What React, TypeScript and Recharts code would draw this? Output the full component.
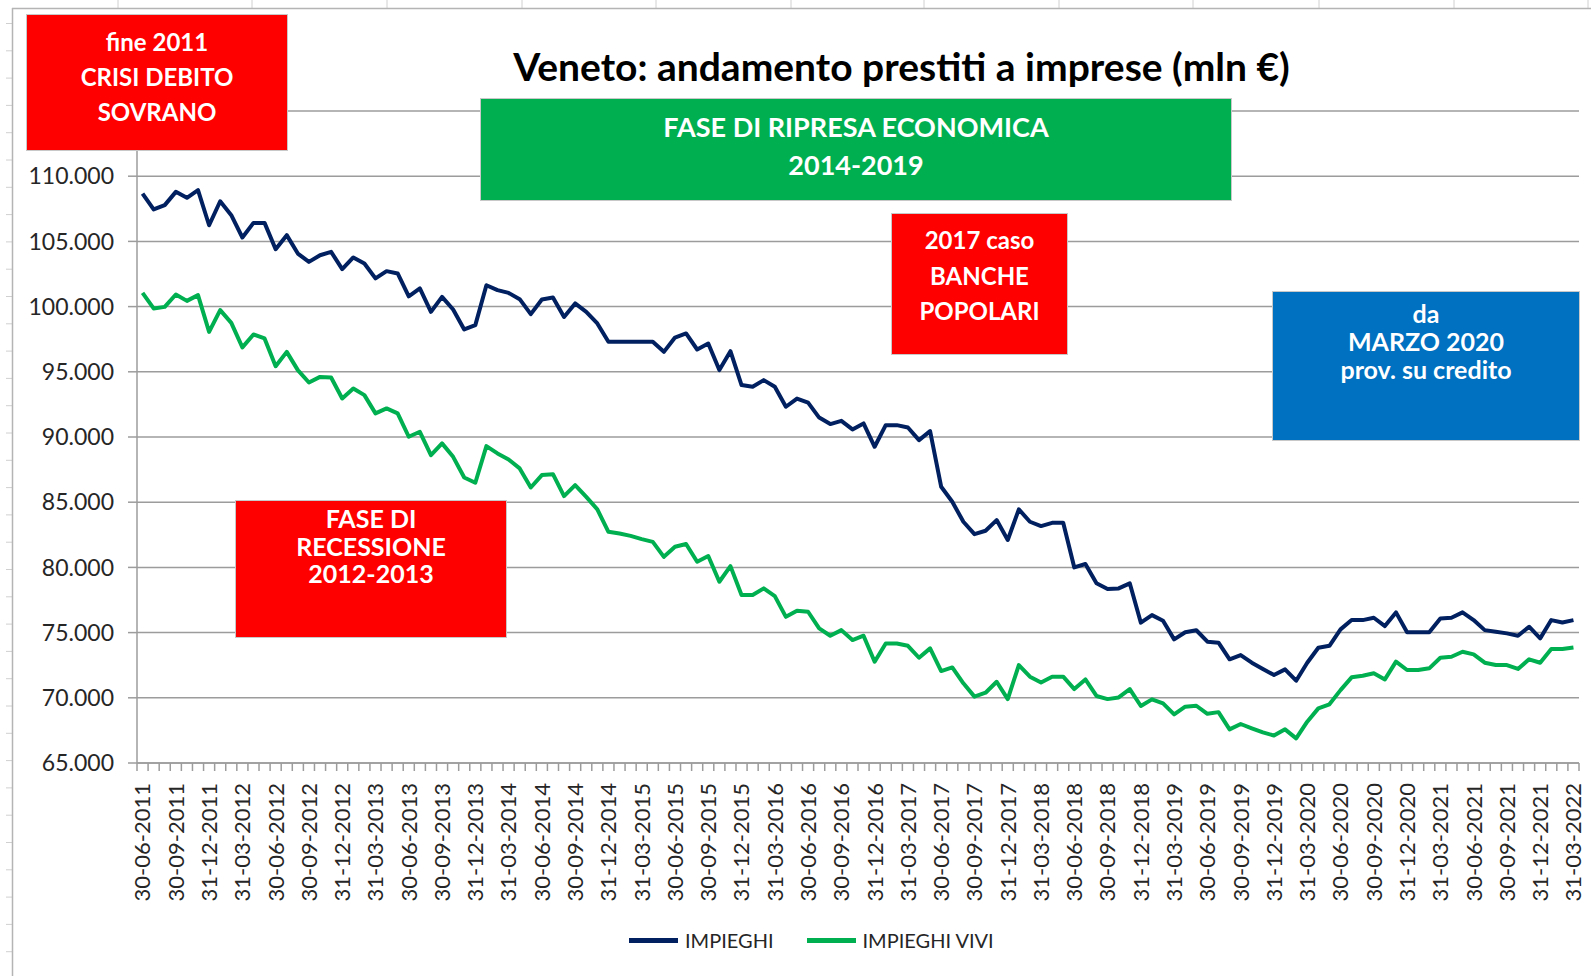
import { LineChart, Line, XAxis, YAxis, CartesianGrid } from 'recharts'

// IMPIEGHI (mln €), monthly, 30-06-2011 .. 31-03-2022
const IMPIEGHI = [
  108670, 107450, 107780, 108800, 108340, 108930, 106240, 108080, 107010, 105300,
  106420, 106420, 104400, 105480, 104070, 103430, 103940, 104200, 102870, 103770,
  103310, 102160, 102720, 102540, 100790, 101390, 99600, 100750, 99780, 98250,
  98580, 101640, 101260, 101050, 100570, 99420, 100550, 100700, 99210, 100240,
  99600, 98710, 97300, 97300, 97300, 97300, 97300, 96530, 97630, 97940,
  96710, 97170, 95130, 96580, 93980, 93850, 94360, 93850, 92320, 92950,
  92640, 91490, 90990, 91240, 90580, 91040, 89250, 90910, 90910, 90730,
  89760, 90450, 86180, 85030, 83500, 82550, 82810, 83630, 82100, 84450,
  83500, 83170, 83420, 83420, 80000, 80260, 78780, 78340, 78390, 78780,
  75760, 76340, 75910, 74480, 75030, 75180, 74300, 74230, 72950, 73280,
  72690, 72210, 71750, 72180, 71310, 72690, 73840, 73990, 75250, 75960,
  75960, 76140, 75500, 76550, 75020, 75020, 75020, 76090, 76140, 76550,
  75960, 75190, 75070, 74940, 74760, 75450, 74560, 75960, 75780, 75960,
]

// IMPIEGHI VIVI (mln €)
const IMPIEGHI_VIVI = [
  101050, 99860, 99980, 100930, 100440, 100880, 98060, 99730, 98750, 96870,
  97860, 97560, 95430, 96530, 95130, 94180, 94610, 94560, 92950, 93720,
  93210, 91810, 92190, 91810, 90020, 90400, 88610, 89510, 88480, 86890,
  86490, 89300, 88740, 88280, 87590, 86130, 87080, 87150, 85470, 86310,
  85410, 84450, 82730, 82600, 82420, 82170, 81960, 80810, 81580, 81790,
  80430, 80870, 78900, 80100, 77880, 77880, 78390, 77800, 76210, 76670,
  76600, 75320, 74760, 75190, 74430, 74760, 72770, 74170, 74170, 73990,
  73070, 73790, 72050, 72330, 71110, 70090, 70390, 71230, 69900, 72510,
  71620, 71180, 71620, 71620, 70670, 71410, 70140, 69900, 70030, 70670,
  69370, 69880, 69570, 68730, 69320, 69390, 68770, 68900, 67580, 67990,
  67660, 67350, 67100, 67580, 66890, 68170, 69190, 69500, 70590, 71570,
  71690, 71880, 71410, 72770, 72130, 72130, 72260, 73070, 73150, 73530,
  73330, 72690, 72510, 72510, 72210, 72950, 72690, 73740, 73740, 73860,
]

// the 115.000 line exists but its label sits under the first text box
const Y_TICKS = [65000, 70000, 75000, 80000, 85000, 90000, 95000, 100000, 105000, 110000, 115000]
const Y_HIDDEN_LABEL = 115000

// month-end dates starting June 2011
const pad = (n: number) => String(n).padStart(2, '0')
const DATES = IMPIEGHI.map((_, i) => {
  const m0 = 5 + i
  const y = 2011 + Math.floor(m0 / 12)
  const m = (m0 % 12) + 1
  const d = new Date(y, m, 0).getDate()
  return `${pad(d)}-${pad(m)}-${y}`
})

const data = DATES.map((date, i) => ({
  date,
  impieghi: IMPIEGHI[i],
  vivi: IMPIEGHI_VIVI[i],
}))

const W = 1591
const H = 976
const PLOT_LEFT = 137
const PLOT_RIGHT = 1579
const HALF_BAND = (PLOT_RIGHT - PLOT_LEFT) / DATES.length / 2

const AXIS_GRAY = '#9c9c9c'
const FONT = 'Lato, "Open Sans", sans-serif'

const fmtY = (v: number) => (v === Y_HIDDEN_LABEL ? '' : `${v / 1000}.000`)

function XTick(props: any) {
  const { x, y, payload, index } = props
  const last = index === DATES.length - 1
  return (
    <g>
      <line x1={x - HALF_BAND} x2={x - HALF_BAND} y1={y} y2={y + 8} stroke={AXIS_GRAY} strokeWidth={1.5} />
      {last && (
        <line x1={x + HALF_BAND} x2={x + HALF_BAND} y1={y} y2={y + 8} stroke={AXIS_GRAY} strokeWidth={1.5} />
      )}
      {index % 3 === 0 && (
        <text
          x={x}
          y={y + 20}
          dy="0.36em"
          textAnchor="end"
          transform={`rotate(-90, ${x}, ${y + 20})`}
          style={{ fontSize: 22, fontFamily: FONT, fill: '#262626' }}
        >
          {payload.value}
        </text>
      )}
    </g>
  )
}

type BoxProps = {
  left: number
  top: number
  width: number
  height: number
  bg: string
  lines: string[]
  fontSize: number
  lineHeight: number
  padTop: number
}

function Box({ left, top, width, height, bg, lines, fontSize, lineHeight, padTop }: BoxProps) {
  return (
    <div
      style={{
        position: 'absolute',
        left,
        top,
        width,
        height,
        boxSizing: 'border-box',
        background: bg,
        border: '1.5px solid #c8c8c8',
        color: '#fff',
        fontFamily: FONT,
        fontWeight: 700,
        fontSize,
        lineHeight: `${lineHeight}px`,
        paddingTop: padTop,
        textAlign: 'center',
      }}
    >
      {lines.map((l) => (
        <div key={l} style={{ height: lineHeight }}>{l}</div>
      ))}
    </div>
  )
}

const COL_LINES = [118, 252, 387, 522, 656, 791, 924, 1059, 1193, 1319, 1454, 1588]
const ROW_LINES = Array.from({ length: 36 }, (_, k) => 23.5 + k * 27.3)

export default function App() {
  return (
    <div style={{ position: 'absolute', left: 0, top: 0, width: W, height: H, background: '#fff', overflow: 'hidden' }}>
      {/* spreadsheet cells around the chart */}
      <svg width={W} height={H} style={{ position: 'absolute', left: 0, top: 0 }}>
        {COL_LINES.map((x) => (
          <line key={x} x1={x} x2={x} y1={0} y2={8} stroke="#d0d0d0" strokeWidth={1} />
        ))}
        {ROW_LINES.map((y) => (
          <line key={y} x1={6} x2={12} y1={y} y2={y} stroke="#d0d0d0" strokeWidth={1} />
        ))}
        <line x1={12.5} x2={12.5} y1={8} y2={H} stroke="#b4b4b4" strokeWidth={1.5} />
        <line x1={12} x2={W} y1={8.5} y2={8.5} stroke="#b4b4b4" strokeWidth={1.5} />
      </svg>

      <div
        style={{
          position: 'absolute',
          left: 0,
          width: W,
          top: 42,
          textAlign: 'center',
          paddingLeft: 212,
          boxSizing: 'border-box',
          fontFamily: FONT,
          fontWeight: 700,
          fontSize: 39,
          color: '#000',
          lineHeight: '48px',
        }}
      >
        Veneto: andamento prestiti a imprese (mln €)
      </div>

      <div style={{ position: 'absolute', left: 0, top: 0 }}>
        <LineChart width={W} height={H} data={data} margin={{ top: 111, right: 12, left: 37, bottom: 63 }}>
          <CartesianGrid vertical={false} stroke={AXIS_GRAY} strokeWidth={1.5} />
          <XAxis
            dataKey="date"
            interval={0}
            padding={{ left: HALF_BAND, right: HALF_BAND }}
            height={150}
            tickLine={false}
            tickSize={0}
            tickMargin={0}
            axisLine={{ stroke: AXIS_GRAY, strokeWidth: 1.5 }}
            tick={XTick}
          />
          <YAxis
            width={100}
            domain={[65000, 115000]}
            ticks={Y_TICKS}
            interval={0}
            tickFormatter={fmtY}
            tickSize={9}
            tickMargin={14}
            tickLine={{ stroke: AXIS_GRAY, strokeWidth: 1.5 }}
            axisLine={{ stroke: AXIS_GRAY, strokeWidth: 1.5 }}
            tick={{ fontSize: 23, fontFamily: FONT, fill: '#262626' }}
          />
          <Line
            type="linear"
            dataKey="impieghi"
            name="IMPIEGHI"
            stroke="#002060"
            strokeWidth={4}
            dot={false}
            strokeLinejoin="round"
            isAnimationActive={false}
          />
          <Line
            type="linear"
            dataKey="vivi"
            name="IMPIEGHI VIVI"
            stroke="#00b050"
            strokeWidth={4}
            dot={false}
            strokeLinejoin="round"
            isAnimationActive={false}
          />
        </LineChart>
      </div>

      {/* legend */}
      <div
        style={{
          position: 'absolute',
          top: 926,
          left: 629,
          display: 'flex',
          alignItems: 'center',
          fontFamily: FONT,
          fontSize: 20,
          color: '#262626',
          lineHeight: '28px',
        }}
      >
        <span style={{ display: 'inline-block', width: 49, height: 5, background: '#002060', marginRight: 7 }} />
        <span style={{ marginRight: 33 }}>IMPIEGHI</span>
        <span style={{ display: 'inline-block', width: 49, height: 5, background: '#00b050', marginRight: 7 }} />
        <span>IMPIEGHI VIVI</span>
      </div>

      <Box left={26} top={14} width={262} height={137} bg="#ff0000" lines={['fine 2011', 'CRISI DEBITO', 'SOVRANO']} fontSize={24} lineHeight={35} padTop={9} />
      <Box left={480} top={98} width={752} height={103} bg="#00b050" lines={['FASE DI RIPRESA ECONOMICA', '2014-2019']} fontSize={27} lineHeight={38} padTop={9} />
      <Box left={891} top={213} width={177} height={142} bg="#ff0000" lines={['2017 caso', 'BANCHE', 'POPOLARI']} fontSize={24} lineHeight={35.5} padTop={8} />
      <Box left={1272} top={291} width={308} height={150} bg="#0070c0" lines={['da', 'MARZO 2020', 'prov. su credito']} fontSize={25} lineHeight={28} padTop={7} />
      <Box left={235} top={500} width={272} height={138} bg="#ff0000" lines={['FASE DI', 'RECESSIONE', '2012-2013']} fontSize={25} lineHeight={27.5} padTop={4} />
    </div>
  )
}
